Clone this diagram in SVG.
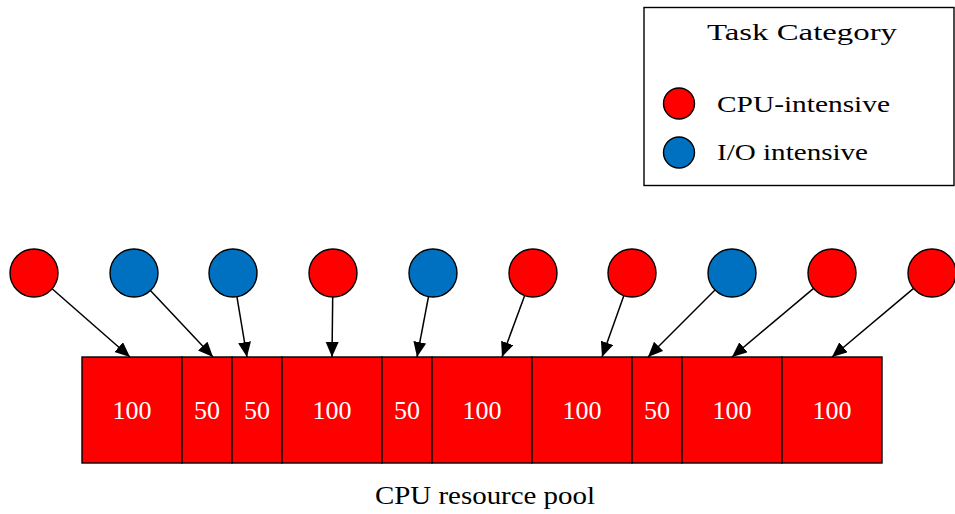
<svg xmlns="http://www.w3.org/2000/svg" width="955" height="514" viewBox="0 0 955 514">
  <style>
    .txt { font-family: "Liberation Serif", "DejaVu Serif", serif; fill: #000; }
    .cpu { fill: #ff0000; stroke: #000; stroke-width: 1.4; }
    .io { fill: #0070c0; stroke: #000; stroke-width: 1.4; }
    .slot { fill: #ff0000; stroke: #000; stroke-width: 1.4; }
    .val { font-family: "Liberation Serif", "DejaVu Serif", serif; font-size: 26px; fill: #fff; text-anchor: middle; }
    .edge { stroke: #000; stroke-width: 1.5; fill: none; marker-end: url(#head); }
  </style>
  <defs>
    <marker id="head" markerUnits="userSpaceOnUse" markerWidth="16" markerHeight="14" refX="15" refY="6.5" orient="auto">
      <path d="M0,0 L15,6.5 L0,13 z" fill="#000"/>
    </marker>
  </defs>
  <rect width="955" height="514" fill="#fff"/>

  <!-- legend -->
  <g id="legend">
    <rect x="644" y="7.5" width="310" height="178" fill="#fff" stroke="#000" stroke-width="1.4"/>
    <text class="txt" x="802" y="40" font-size="24" text-anchor="middle" textLength="190" lengthAdjust="spacingAndGlyphs">Task Category</text>
    <circle class="cpu" cx="679" cy="103.5" r="15.5"/>
    <text class="txt" x="717" y="112" font-size="24" textLength="173" lengthAdjust="spacingAndGlyphs">CPU-intensive</text>
    <circle class="io" cx="679" cy="152.5" r="15.5"/>
    <text class="txt" x="717" y="160" font-size="24" textLength="151" lengthAdjust="spacingAndGlyphs">I/O intensive</text>
  </g>

  <!-- tasks -->
  <g id="task1"><circle class="cpu" cx="34" cy="273" r="24"/></g>
  <g id="task2"><circle class="io" cx="134" cy="273" r="24"/></g>
  <g id="task3"><circle class="io" cx="233" cy="273" r="24"/></g>
  <g id="task4"><circle class="cpu" cx="333" cy="273" r="24"/></g>
  <g id="task5"><circle class="io" cx="433" cy="273" r="24"/></g>
  <g id="task6"><circle class="cpu" cx="533" cy="273" r="24"/></g>
  <g id="task7"><circle class="cpu" cx="632" cy="273" r="24"/></g>
  <g id="task8"><circle class="io" cx="732" cy="273" r="24"/></g>
  <g id="task9"><circle class="cpu" cx="832" cy="273" r="24"/></g>
  <g id="task10"><circle class="cpu" cx="932" cy="273" r="24"/></g>

  <!-- resource pool slots -->
  <g id="pool">
    <g id="slot1"><rect class="slot" x="82" y="357" width="100" height="106"/><text class="val" x="132" y="419">100</text></g>
    <g id="slot2"><rect class="slot" x="182" y="357" width="50" height="106"/><text class="val" x="207" y="419">50</text></g>
    <g id="slot3"><rect class="slot" x="232" y="357" width="50" height="106"/><text class="val" x="257" y="419">50</text></g>
    <g id="slot4"><rect class="slot" x="282" y="357" width="100" height="106"/><text class="val" x="332" y="419">100</text></g>
    <g id="slot5"><rect class="slot" x="382" y="357" width="50" height="106"/><text class="val" x="407" y="419">50</text></g>
    <g id="slot6"><rect class="slot" x="432" y="357" width="100" height="106"/><text class="val" x="482" y="419">100</text></g>
    <g id="slot7"><rect class="slot" x="532" y="357" width="100" height="106"/><text class="val" x="582" y="419">100</text></g>
    <g id="slot8"><rect class="slot" x="632" y="357" width="50" height="106"/><text class="val" x="657" y="419">50</text></g>
    <g id="slot9"><rect class="slot" x="682" y="357" width="100" height="106"/><text class="val" x="732" y="419">100</text></g>
    <g id="slot10"><rect class="slot" x="782" y="357" width="100" height="106"/><text class="val" x="832" y="419">100</text></g>
    <text class="txt" x="485" y="504" font-size="26" text-anchor="middle" textLength="220" lengthAdjust="spacingAndGlyphs">CPU resource pool</text>
  </g>

  <!-- task-to-slot assignments -->
  <g id="edges">
    <line class="edge" x1="52.1" y1="288.8" x2="130" y2="357"/>
    <line class="edge" x1="150.4" y1="290.5" x2="213" y2="357"/>
    <line class="edge" x1="236.9" y1="296.7" x2="247" y2="357"/>
    <line class="edge" x1="332.7" y1="297" x2="332" y2="357"/>
    <line class="edge" x1="428.5" y1="296.6" x2="417" y2="357"/>
    <line class="edge" x1="524.7" y1="295.5" x2="502" y2="357"/>
    <line class="edge" x1="623.9" y1="295.6" x2="602" y2="357"/>
    <line class="edge" x1="715" y1="290" x2="648" y2="357"/>
    <line class="edge" x1="813.6" y1="288.4" x2="732" y2="357"/>
    <line class="edge" x1="913.6" y1="288.4" x2="832" y2="357"/>
  </g>
</svg>
